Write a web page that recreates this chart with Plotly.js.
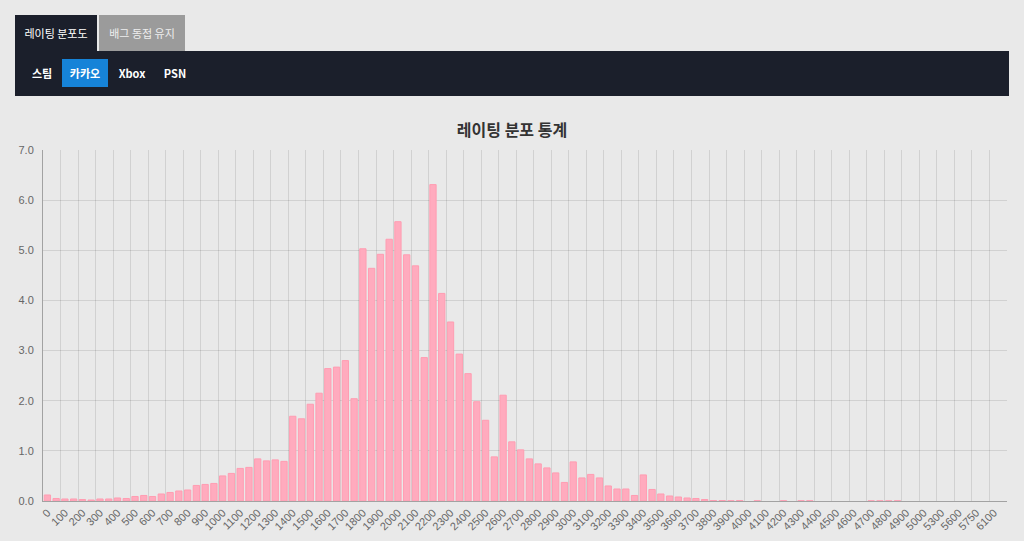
<!DOCTYPE html>
<html>
<head>
<meta charset="utf-8">
<script src="https://cdn.plot.ly/plotly-3.0.1.min.js"></script>
<style>
  html, body { margin:0; padding:0; width:1024px; height:541px; background:#e9e9e9; overflow:hidden;
    font-family:"Noto Sans CJK KR","Noto Sans",sans-serif; }
  .tabs { position:absolute; left:15px; top:15px; height:36px; }
  .tab { position:absolute; top:0; height:36px; line-height:36px; font-size:11px; text-align:center; }
  .tab1 { left:0; width:82px; background:#1b1f2b; color:#fff; }
  .tab2 { left:84px; width:86px; background:#9b9b9b; color:#eee; }
  .panel { position:absolute; left:15px; top:51px; width:994px; height:45px; background:#1b1f2b; }
  .btn { position:absolute; top:8px; height:28px; line-height:28px; font-size:11px; color:#fff; font-weight:bold; text-align:center; }
  .b1 { left:12px; width:30px; }
  .b2 { left:47px; width:46px; background:#1683d8; }
  .b3 { left:101px; width:32px; }
  .b4 { left:145px; width:30px; }
  #chart { position:absolute; left:0; top:105px; width:1024px; height:436px; }
</style>
</head>
<body>
<div class="tabs">
  <div class="tab tab1">레이팅 분포도</div>
  <div class="tab tab2">배그 동접 유지</div>
</div>
<div class="panel">
  <div class="btn b1">스팀</div>
  <div class="btn b2">카카오</div>
  <div class="btn b3">Xbox</div>
  <div class="btn b4">PSN</div>
</div>
<div id="chart"></div>
<script>
const chartTitle = "레이팅 분포 통계";

const ratings = [
  "0","50","100","150","200","250","300","350","400","450",
  "500","550","600","650","700","750","800","850","900","950",
  "1000","1050","1100","1150","1200","1250","1300","1350","1400","1450",
  "1500","1550","1600","1650","1700","1750","1800","1850","1900","1950",
  "2000","2050","2100","2150","2200","2250","2300","2350","2400","2450",
  "2500","2550","2600","2650","2700","2750","2800","2850","2900","2950",
  "3000","3050","3100","3150","3200","3250","3300","3350","3400","3450",
  "3500","3550","3600","3650","3700","3750","3800","3850","3900","3950",
  "4000","4050","4100","4150","4200","4250","4300","4350","4400","4450",
  "4500","4550","4600","4650","4700","4750","4800","4850","4900","4950",
  "5000","5200","5300","5500","5600","5700","5750","5900","6100","6300"
];

const percent = [
  0.12,0.05,0.04,0.04,0.03,0.02,0.04,0.04,0.06,0.05,
  0.09,0.11,0.09,0.14,0.17,0.20,0.22,0.31,0.33,0.35,
  0.50,0.55,0.65,0.67,0.84,0.80,0.82,0.79,1.69,1.64,
  1.93,2.15,2.64,2.67,2.80,2.04,5.03,4.64,4.92,5.22,
  5.57,4.91,4.69,2.86,6.31,4.14,3.57,2.93,2.54,1.98,
  1.61,0.88,2.11,1.18,1.02,0.84,0.74,0.66,0.56,0.37,
  0.78,0.46,0.53,0.46,0.30,0.24,0.24,0.11,0.52,0.23,
  0.14,0.10,0.08,0.06,0.05,0.03,0.01,0.01,0.005,0.01,
  0,0.005,0,0,0.005,0,0.005,0.005,0,0,
  0,0,0,0,0.003,0.003,0.003,0.005,0,0,
  0,0,0,0,0,0,0,0,0,0
];

// labels shown on the axis (every other category, as in the original)
const shownLabels = [
  "0","100","200","300","400","500","600","700","800","900",
  "1000","1100","1200","1300","1400","1500","1600","1700","1800","1900",
  "2000","2100","2200","2300","2400","2500","2600","2700","2800","2900",
  "3000","3100","3200","3300","3400","3500","3600","3700","3800","3900",
  "4000","4100","4200","4300","4400","4500","4600","4700","4800","4900",
  "5000","5300","5600","5750","6100"
];

const yTicks = [0,1,2,3,4,5,6,7];

// grid lines sit on the left boundary of each labelled category
const gridPos = shownLabels.map(l => ratings.indexOf(l) - 0.5);

const trace = {
  type: "bar",
  x: ratings,
  y: percent,
  marker: {
    color: "#ffabbe",
    line: { color: "#ff9db2", width: percent.map(v => (v > 0 ? 1 : 0)) }
  },
  hoverinfo: "x+y"
};

const gridHelper = {
  type: "scatter", mode: "markers",
  x: [gridPos[0]], y: [0], xaxis: "x2", yaxis: "y",
  marker: { opacity: 0 }, hoverinfo: "skip"
};

const layout = {
  width: 1024, height: 436,
  margin: { l: 43, r: 17, t: 45, b: 40 },
  paper_bgcolor: "#e9e9e9",
  plot_bgcolor: "#e9e9e9",
  bargap: 0.28,
  showlegend: false,
  font: { family: "Liberation Sans, Arial, sans-serif", size: 11, color: "#666" },
  title: {
    text: chartTitle,
    font: { family: "Noto Sans CJK KR, sans-serif", size: 16, color: "#333", weight: "bold" },
    x: 0.5, xanchor: "center", y: 1 - 25/436, yref: "container", yanchor: "middle"
  },
  xaxis: {
    type: "category",
    categoryorder: "array", categoryarray: ratings,
    tickmode: "array", tickvals: shownLabels, ticktext: shownLabels,
    tickangle: -45,
    range: [-0.5, ratings.length - 0.5],
    showgrid: false,
    showline: true, linecolor: "rgba(0,0,0,0.3)", linewidth: 1,
    ticks: "", fixedrange: true, automargin: false
  },
  xaxis2: {
    type: "linear", overlaying: "x", anchor: "y", side: "bottom",
    range: [-0.5, ratings.length - 0.5],
    tickmode: "array", tickvals: gridPos, showticklabels: false,
    showgrid: true, gridcolor: "rgba(0,0,0,0.1)", gridwidth: 1,
    showline: false, zeroline: false, ticks: "", fixedrange: true
  },
  yaxis: {
    range: [0, 7],
    tickmode: "array", tickvals: yTicks, tickformat: ".1f",
    showgrid: true, gridcolor: "rgba(0,0,0,0.1)", gridwidth: 1,
    showline: true, linecolor: "rgba(0,0,0,0.3)", linewidth: 1,
    zeroline: false, ticks: "", ticklabelstandoff: 6,
    fixedrange: true, automargin: false
  }
};

Plotly.newPlot("chart", [gridHelper, trace], layout, { displayModeBar: false, staticPlot: true });
</script>
</body>
</html>
